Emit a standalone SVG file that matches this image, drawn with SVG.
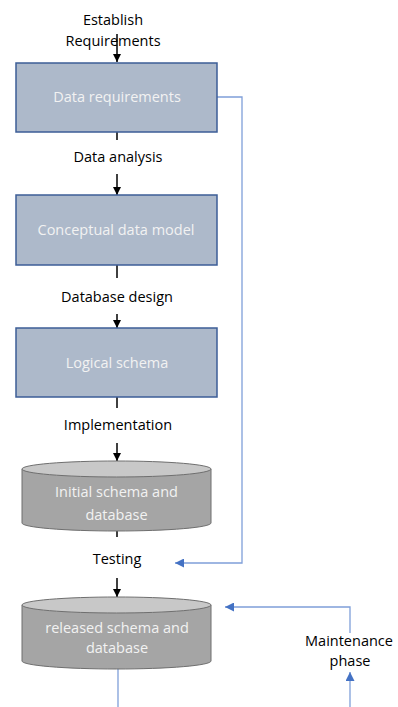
<svg xmlns="http://www.w3.org/2000/svg" width="398" height="707" viewBox="0 0 398 707">
  <style>
    .lbl { font-family: "Open Sans", "Liberation Sans", sans-serif; font-size: 14.5px; fill: #000; text-anchor: middle; }
    .in { font-family: "Open Sans", "Liberation Sans", sans-serif; font-size: 14.5px; fill: #f2f2f2; text-anchor: middle; }
    .box { fill: #adb9ca; stroke: #3c5d97; stroke-width: 1.5; }
    .cyl { fill: #a5a5a5; stroke: #6f6f6f; stroke-width: 1; }
    .cap { fill: #c8c8c8; stroke: #6f6f6f; stroke-width: 1; }
    .flow { stroke: #000; stroke-width: 1.5; fill: none; }
    .loop { stroke: #7f9fd9; stroke-width: 1.3; fill: none; }
  </style>
  <defs>
    <marker id="ah" viewBox="0 0 10 10" refX="10" refY="5" markerWidth="8" markerHeight="8" markerUnits="userSpaceOnUse" orient="auto">
      <path d="M0,0 L10,5 L0,10 Z" fill="#000"/>
    </marker>
    <marker id="ahb" viewBox="0 0 10 10" refX="10" refY="5" markerWidth="9" markerHeight="9" markerUnits="userSpaceOnUse" orient="auto">
      <path d="M0,0 L10,5 L0,10 Z" fill="#4472c4"/>
    </marker>
  </defs>

  <!-- connectors -->
  <g id="connectors">
    <line class="flow" x1="117" y1="34" x2="117" y2="62" marker-end="url(#ah)"/>
    <line class="flow" x1="117" y1="132" x2="117" y2="140"/>
    <line class="flow" x1="117" y1="174" x2="117" y2="195" marker-end="url(#ah)"/>
    <line class="flow" x1="117" y1="265" x2="117" y2="278"/>
    <line class="flow" x1="117" y1="314" x2="117" y2="328" marker-end="url(#ah)"/>
    <line class="flow" x1="117" y1="397" x2="117" y2="408"/>
    <line class="flow" x1="117" y1="443" x2="117" y2="461" marker-end="url(#ah)"/>
    <line class="flow" x1="117" y1="531" x2="117" y2="537"/>
    <line class="flow" x1="117" y1="578" x2="117" y2="597" marker-end="url(#ah)"/>
    <polyline class="loop" points="217,97 242,97 242,563 175,563" marker-end="url(#ahb)"/>
    <line class="loop" x1="118" y1="669" x2="118" y2="707"/>
    <line class="loop" x1="350" y1="707" x2="350" y2="672" marker-end="url(#ahb)"/>
    <polyline class="loop" points="350,633 350,607 225,607" marker-end="url(#ahb)"/>
  </g>

  <!-- step labels -->
  <g id="lbl-establish">
    <text class="lbl" x="113" y="25">Establish</text>
    <text class="lbl" x="113" y="46">Requirements</text>
  </g>
  <g id="lbl-analysis"><text class="lbl" x="118" y="162">Data analysis</text></g>
  <g id="lbl-design"><text class="lbl" x="117" y="302">Database design</text></g>
  <g id="lbl-impl"><text class="lbl" x="118" y="430">Implementation</text></g>
  <g id="lbl-testing"><text class="lbl" x="117" y="564">Testing</text></g>
  <g id="lbl-maint">
    <text class="lbl" x="349" y="646">Maintenance</text>
    <text class="lbl" x="350" y="666">phase</text>
  </g>

  <!-- process boxes -->
  <g id="data-requirements">
    <rect class="box" x="16" y="63" width="201" height="69"/>
    <text class="in" x="117" y="102">Data requirements</text>
  </g>
  <g id="conceptual-model">
    <rect class="box" x="16" y="195" width="201" height="70"/>
    <text class="in" x="116" y="235">Conceptual data model</text>
  </g>
  <g id="logical-schema">
    <rect class="box" x="16" y="328" width="201" height="69"/>
    <text class="in" x="117" y="368">Logical schema</text>
  </g>

  <!-- database cylinders -->
  <g id="initial-db">
    <path class="cyl" d="M22,469 L22,523 A94.5,8 0 0 0 211,523 L211,469 Z"/>
    <ellipse class="cap" cx="116.5" cy="469" rx="94.5" ry="8"/>
    <text class="in" x="116.5" y="497">Initial schema and</text>
    <text class="in" x="116.5" y="520">database</text>
  </g>
  <g id="released-db">
    <path class="cyl" d="M22,605 L22,661 A94.5,8 0 0 0 211,661 L211,605 Z"/>
    <ellipse class="cap" cx="116.5" cy="605" rx="94.5" ry="8"/>
    <text class="in" x="117" y="633">released schema and</text>
    <text class="in" x="117" y="653">database</text>
  </g>
</svg>
